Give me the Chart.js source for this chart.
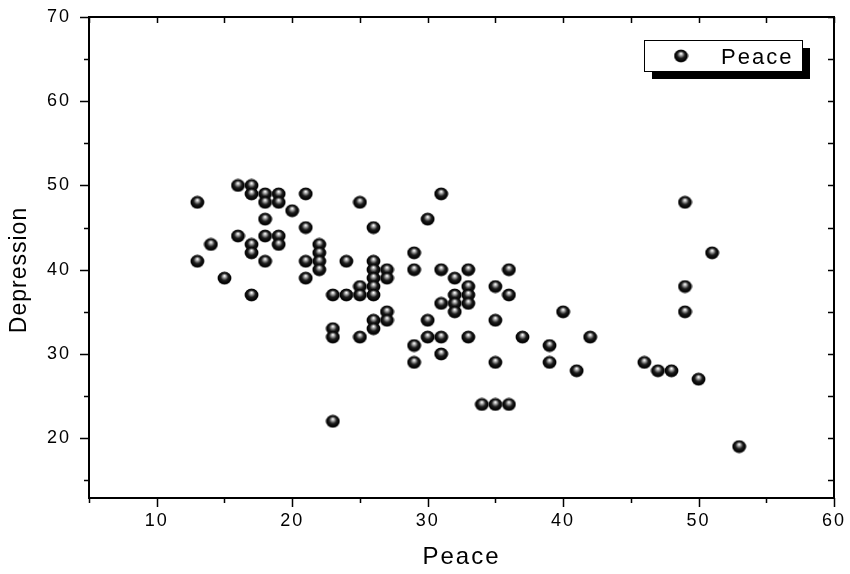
<!DOCTYPE html>
<html>
<head>
<meta charset="utf-8">
<script src="https://cdn.jsdelivr.net/npm/chart.js@4.4.1/dist/chart.umd.min.js"></script>
<style>
  html, body { margin: 0; padding: 0; background: #fff; }
  #wrap { width: 850px; height: 574px; }
</style>
</head>
<body>
<div id="wrap"><canvas id="scatterChart" width="850" height="574"></canvas></div>
<script>
// Peace (x) and Depression (y) scores, grouped by Peace value
const peace = [
    13, 13, 14, 15, 16, 16,
    17, 17, 17, 17, 17,
    18, 18, 18, 18, 18,
    19, 19, 19, 19, 20,
    21, 21, 21, 21,
    22, 22, 22, 22,
    23, 23, 23, 23, 24, 24,
    25, 25, 25, 25,
    26, 26, 26, 26, 26, 26, 26, 26,
    27, 27, 27, 27,
    29, 29, 29, 29,
    30, 30, 30,
    31, 31, 31, 31, 31,
    32, 32, 32, 32,
    33, 33, 33, 33, 33,
    34, 35, 35, 35, 35,
    36, 36, 36, 37, 39, 39, 40, 41, 42,
    46, 47, 48, 49, 49, 49, 50, 51, 53
];
const depression = [
    48, 41, 43, 39, 50, 44,
    50, 49, 43, 42, 37,
    49, 48, 46, 44, 41,
    49, 48, 44, 43, 47,
    49, 45, 41, 39,
    43, 42, 41, 40,
    37, 33, 32, 22, 41, 37,
    48, 38, 37, 32,
    45, 41, 40, 39, 38, 37, 34, 33,
    40, 39, 35, 34,
    42, 40, 31, 29,
    46, 34, 32,
    49, 40, 36, 32, 30,
    39, 37, 36, 35,
    40, 38, 37, 36, 32,
    24, 38, 34, 29, 24,
    40, 37, 24, 32, 31, 29, 35, 28, 32,
    29, 28, 28, 48, 38, 35, 27, 42, 19
];
const seriesName = 'Peace';
const xTitle = 'Peace';
const yTitle = 'Depression';
const xTicks = [10, 20, 30, 40, 50, 60];
const yTicks = [20, 30, 40, 50, 60, 70];

const FONT = '"Liberation Sans", Arial, sans-serif';

// shaded ball marker, like the one Origin draws
function makeSphere() {
    const c = document.createElement('canvas');
    c.width = 15;
    c.height = 14;
    const g = c.getContext('2d');
    g.translate(7.5, 7);
    g.scale(1, 0.93);
    const grad = g.createRadialGradient(0, -2.6, 0.3, 0, 0, 7.2);
    grad.addColorStop(0, '#ffffff');
    grad.addColorStop(0.16, '#b8b8b8');
    grad.addColorStop(0.5, '#1e1e1e');
    grad.addColorStop(0.85, '#000000');
    grad.addColorStop(1, '#444444');
    g.fillStyle = grad;
    g.beginPath();
    g.arc(0, 0, 7, 0, Math.PI * 2);
    g.fill();
    return c;
}
const sphere = makeSphere();

// axis frame with Origin style ticks, y title, and the boxed legend with its shadow
const framePlugin = {
    id: 'frame',
    beforeDraw(chart) {
        chart.ctx.letterSpacing = '2px';
    },
    afterDraw(chart) {
        const ctx = chart.ctx;
        const a = chart.chartArea;
        const xs = chart.scales.x, ys = chart.scales.y;
        ctx.save();
        ctx.strokeStyle = '#000';
        ctx.lineWidth = 2;
        ctx.strokeRect(a.left, a.top, a.right - a.left, a.bottom - a.top);

        ctx.lineWidth = 1.5;
        ctx.beginPath();
        for (let v = xs.min; v <= xs.max + 0.001; v += 5) {
            const px = Math.round(xs.getPixelForValue(v)) + 0.5;
            const major = xTicks.includes(v);
            ctx.moveTo(px, a.bottom);
            ctx.lineTo(px, a.bottom + (major ? 9 : 5));
            ctx.moveTo(px, a.top);
            ctx.lineTo(px, a.top + 6);
        }
        for (let v = 15; v <= ys.max + 0.001; v += 5) {
            const py = Math.round(ys.getPixelForValue(v)) + 0.5;
            const major = yTicks.includes(v);
            ctx.moveTo(a.left, py);
            ctx.lineTo(a.left - (major ? 9 : 5), py);
            ctx.moveTo(a.right, py);
            ctx.lineTo(a.right - 6, py);
        }
        ctx.stroke();

        // y axis title, sits a little below the middle as in the original
        ctx.save();
        ctx.translate(20, 270);
        ctx.rotate(-Math.PI / 2);
        ctx.letterSpacing = '1px';
        ctx.font = '23px ' + FONT;
        ctx.fillStyle = '#000';
        ctx.textAlign = 'center';
        ctx.textBaseline = 'middle';
        ctx.fillText(yTitle, 0, 0);
        ctx.restore();

        // legend
        const bx = 644, by = 40, bw = 158, bh = 31;
        ctx.fillStyle = '#000';
        ctx.fillRect(bx + 8, by + 8, bw, bh);
        ctx.fillStyle = '#fff';
        ctx.fillRect(bx, by, bw, bh);
        ctx.lineWidth = 1;
        ctx.strokeRect(bx + 0.5, by + 0.5, bw, bh);
        ctx.drawImage(sphere, 681 - sphere.width / 2, 56 - sphere.height / 2);
        ctx.fillStyle = '#000';
        ctx.font = '22px ' + FONT;
        ctx.textBaseline = 'alphabetic';
        ctx.textAlign = 'left';
        ctx.fillText(chart.data.datasets[0].label, 721, 64);
        ctx.restore();
    }
};

const points = peace.map((p, i) => ({ x: p, y: depression[i] }));

new Chart(document.getElementById('scatterChart'), {
    type: 'scatter',
    data: {
        datasets: [{
            label: seriesName,
            data: points,
            pointStyle: sphere,
            pointRadius: 7,
            pointHoverRadius: 7
        }]
    },
    options: {
        responsive: false,
        animation: false,
        layout: { padding: { left: 0, right: 16, top: 17, bottom: 0 } },
        plugins: {
            legend: { display: false },
            tooltip: { enabled: false }
        },
        scales: {
            x: {
                type: 'linear',
                min: 5,
                max: 60,
                grid: { display: false, drawTicks: false },
                border: { display: false },
                afterBuildTicks: s => { s.ticks = xTicks.map(v => ({ value: v })); },
                afterFit: s => {
                    s.height = 76;
                    s.paddingLeft = 0;
                    s.paddingRight = 0;
                },
                ticks: {
                    padding: 12,
                    maxRotation: 0,
                    color: '#000',
                    font: { family: FONT, size: 18 }
                },
                title: {
                    display: true,
                    text: xTitle,
                    color: '#000',
                    padding: { top: 0, bottom: 2 },
                    font: { family: FONT, size: 24 }
                }
            },
            y: {
                type: 'linear',
                min: 12.9,
                max: 70,
                grid: { display: false, drawTicks: false },
                border: { display: false },
                afterBuildTicks: s => { s.ticks = yTicks.map(v => ({ value: v })); },
                afterFit: s => {
                    s.width = 89;
                    s.paddingTop = 0;
                    s.paddingBottom = 0;
                },
                ticks: {
                    padding: 18,
                    color: '#000',
                    font: { family: FONT, size: 18 }
                },
                title: { display: false }
            }
        }
    },
    plugins: [framePlugin]
});
</script>
</body>
</html>
